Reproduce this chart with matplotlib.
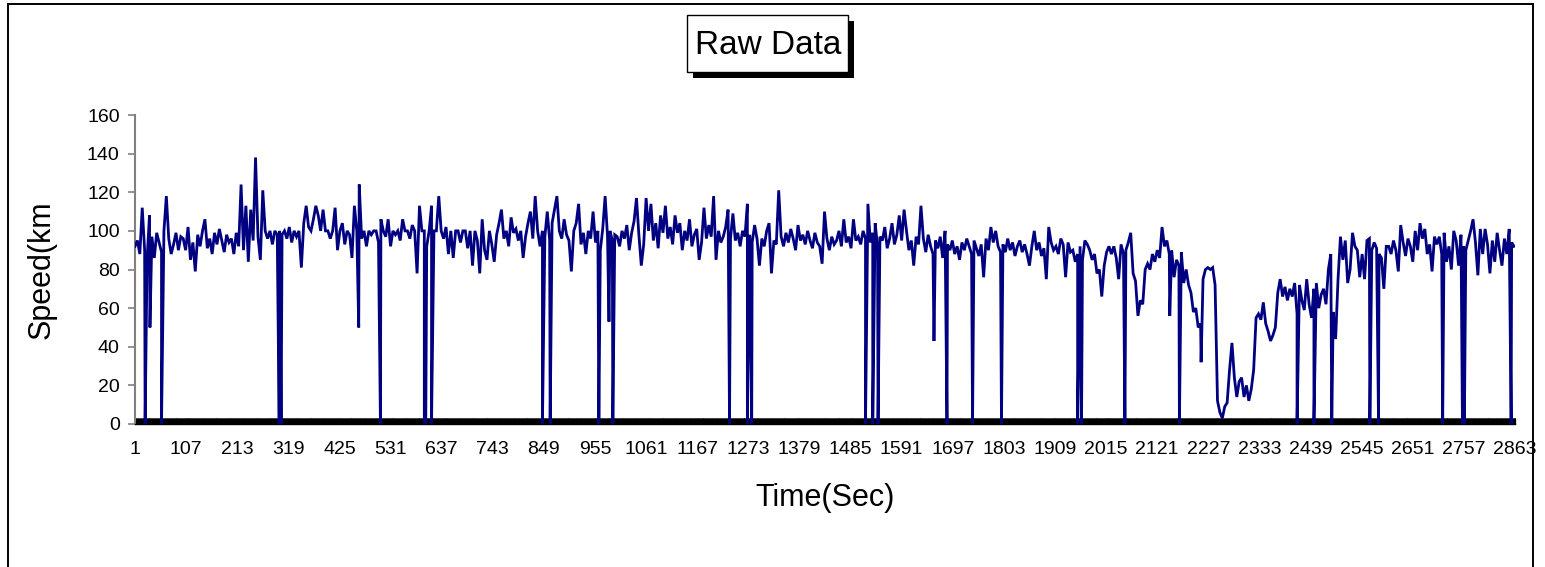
import numpy as np
import matplotlib
matplotlib.use("Agg")
import matplotlib.pyplot as plt
from matplotlib.patches import Rectangle

sample_step = 5
speed_rows = [
    [92, 95, 88, 112, 90, 85, 108, 97, 86, 99, 94, 89, 100, 118, 96, 88, 93, 99, 90, 97],      # 1-100
    [96, 90, 102, 85, 94, 79, 98, 92, 100, 106, 91, 96, 88, 99, 93, 101, 95, 89, 98, 94],      # 101-200
    [96, 88, 99, 92, 124, 90, 113, 84, 111, 95, 138, 97, 85, 121, 100, 96, 100, 93, 100, 98],  # 201-300
    [100, 98, 100, 96, 102, 94, 100, 97, 100, 81, 104, 113, 102, 100, 106, 113, 108, 100, 111, 100],
    [100, 96, 100, 112, 90, 100, 104, 93, 100, 98, 86, 113, 100, 124, 96, 100, 92, 100, 98, 100],
    [100, 94, 106, 100, 97, 106, 92, 100, 98, 100, 95, 106, 100, 100, 96, 103, 100, 78, 113, 100],
    [100, 92, 100, 113, 100, 100, 118, 100, 96, 102, 88, 100, 86, 100, 100, 94, 100, 100, 91, 100],
    [82, 100, 95, 78, 106, 90, 85, 100, 93, 84, 98, 104, 111, 96, 100, 92, 107, 99, 101, 95],
    [100, 86, 97, 104, 110, 96, 118, 100, 92, 100, 97, 110, 95, 104, 111, 118, 100, 96, 106, 98],
    [95, 79, 100, 104, 114, 93, 99, 88, 100, 96, 110, 94, 100, 90, 101, 118, 97, 100, 95, 98],
    [97, 92, 100, 96, 103, 90, 99, 105, 117, 98, 82, 93, 117, 100, 114, 95, 104, 91, 108, 99],
    [113, 96, 102, 93, 108, 99, 104, 90, 100, 95, 106, 92, 98, 101, 85, 94, 112, 96, 103, 97],
    [118, 85, 100, 94, 97, 102, 111, 96, 109, 95, 99, 92, 100, 97, 114, 98, 94, 103, 96, 82],
    [96, 92, 100, 104, 78, 95, 93, 121, 97, 92, 99, 94, 101, 96, 90, 103, 95, 98, 93, 100],
    [95, 91, 99, 94, 92, 83, 110, 96, 90, 97, 93, 95, 100, 92, 106, 94, 97, 91, 106, 95],
    [97, 93, 100, 96, 114, 94, 99, 104, 92, 97, 95, 102, 91, 96, 104, 93, 98, 108, 95, 111],
    [100, 90, 95, 82, 97, 93, 113, 96, 89, 98, 92, 88, 95, 91, 97, 86, 100, 93, 90, 95],
    [88, 92, 85, 94, 90, 96, 92, 88, 95, 91, 87, 93, 76, 96, 90, 102, 94, 100, 92, 89],
    [93, 89, 96, 90, 94, 87, 92, 95, 89, 93, 88, 82, 92, 100, 90, 94, 87, 91, 75, 102],
    [94, 90, 92, 88, 96, 93, 76, 94, 89, 90, 84, 88, 92, 85, 95, 93, 90, 85, 88, 78],
    [80, 66, 82, 89, 92, 88, 92, 86, 75, 93, 88, 90, 94, 99, 78, 74, 56, 64, 62, 80],
    [83, 80, 88, 84, 90, 86, 102, 92, 95, 88, 90, 76, 85, 82, 89, 73, 80, 72, 68, 58],
    [60, 50, 52, 75, 80, 81, 80, 81, 72, 12, 6, 3, 9, 11, 28, 42, 24, 14, 22, 24],
    [14, 20, 12, 18, 28, 55, 57, 54, 63, 52, 48, 43, 46, 50, 68, 75, 66, 71, 64, 70],
    [66, 73, 57, 72, 64, 59, 75, 62, 55, 70, 73, 60, 67, 70, 62, 80, 88, 58, 44, 75],
    [97, 85, 95, 73, 80, 99, 92, 90, 76, 88, 75, 95, 96, 90, 94, 91, 88, 86, 70, 92],
    [92, 88, 95, 90, 79, 103, 94, 87, 96, 92, 84, 100, 90, 104, 96, 101, 88, 93, 79, 97],
    [93, 97, 88, 99, 84, 92, 80, 100, 95, 82, 98, 92, 90, 95, 100, 106, 94, 77, 101, 88],
    [101, 93, 78, 95, 84, 99, 90, 82, 96, 88, 101, 94, 92],                                   # 2801-2861
]

# sharp drops (sensor dropouts / dips): time (s) and speed
drop_times = [22, 32, 56, 300, 304, 465, 510, 601, 604, 616, 846, 862, 963, 984, 992,
              1234, 1271, 1280, 1516, 1531, 1542, 1658, 1685, 1738, 1798, 1956, 1964,
              2054, 2147, 2167, 2212, 2411, 2446, 2483, 2562, 2580, 2713, 2754, 2758, 2855]
drop_values = [0, 50, 0, 0, 0, 50, 0, 0, 0, 0, 0, 0, 0, 53, 0,
               0, 0, 0, 0, 0, 0, 43, 0, 0, 0, 0, 0,
               0, 56, 0, 32, 0, 0, 0, 0, 0, 0, 0, 0, 0]

tick_labels = [str(v) for v in range(1, 2864, 106)]
y_ticks = [0, 20, 40, 60, 80, 100, 120, 140, 160]

# ---- assemble series ----
base_v = [v for row in speed_rows for v in row]
base_t = [1 + sample_step * i for i in range(len(base_v))]
t_all = np.array(base_t + drop_times, dtype=float)
v_all = np.array(base_v + drop_values, dtype=float)
order = np.argsort(t_all, kind="stable")
t_all, v_all = t_all[order], v_all[order]

# ---- figure ----
W, H = 1545, 567
fig = plt.figure(figsize=(W / 100, H / 100), dpi=100)
fig.patch.set_facecolor("white")
font = "Liberation Sans"

def fig_rect(x0, y0, x1, y1, **kw):
    """rectangle given in pixel coordinates (top-left origin)"""
    r = Rectangle((x0 / W, 1 - y1 / H), (x1 - x0) / W, (y1 - y0) / H,
                  transform=fig.transFigure, **kw)
    fig.add_artist(r)
    return r

# chart area border
fig_rect(8, 4, 1533, 600, facecolor="white", edgecolor="black", lw=1.4, zorder=0)

left, right, top, bottom = 135, 1515, 115, 424
ax = fig.add_axes([left / W, 1 - bottom / H, (right - left) / W, (bottom - top) / H])
ax.set_facecolor("none")
ax.plot(t_all, v_all, color="#000080", lw=2.0, solid_joinstyle="miter", zorder=3)

ax.set_xlim(1, 2863)
ax.set_ylim(0, 160)
ax.set_yticks(y_ticks)
ax.set_yticklabels([str(v) for v in y_ticks], fontsize=14, fontname=font)
ax.set_xticks([int(s) for s in tick_labels])
ax.set_xticklabels(tick_labels, fontsize=14, fontname=font)
ax.set_xticks(np.arange(1, 2864), minor=True)

for s in ["top", "right"]:
    ax.spines[s].set_visible(False)
ax.spines["left"].set_color("#808080")
ax.spines["left"].set_linewidth(1.5)
ax.spines["bottom"].set_color("black")
ax.spines["bottom"].set_linewidth(1.0)
ax.tick_params(axis="y", direction="out", length=5, width=1.2, color="#808080", pad=6)
ax.tick_params(axis="x", which="major", direction="in", length=4.5, width=0.9,
               color="black", pad=12)
ax.tick_params(axis="x", which="minor", direction="in", length=4.5, width=0.7,
               color="black")

ax.set_xlabel("Time(Sec)", fontsize=22, fontname=font, labelpad=18)
ax.set_ylabel("Speed(km", fontsize=22, fontname=font, labelpad=22)

# title box with shadow
fig_rect(693, 21, 854, 78, facecolor="black", edgecolor="none", zorder=1)
fig_rect(687, 15, 848, 72, facecolor="white", edgecolor="black", lw=1.0, zorder=2)
fig.text(768 / W, 1 - 45 / H, "Raw Data", fontsize=24, fontname=font,
         ha="center", va="center", zorder=3)

fig.savefig("out.png", dpi=100)
